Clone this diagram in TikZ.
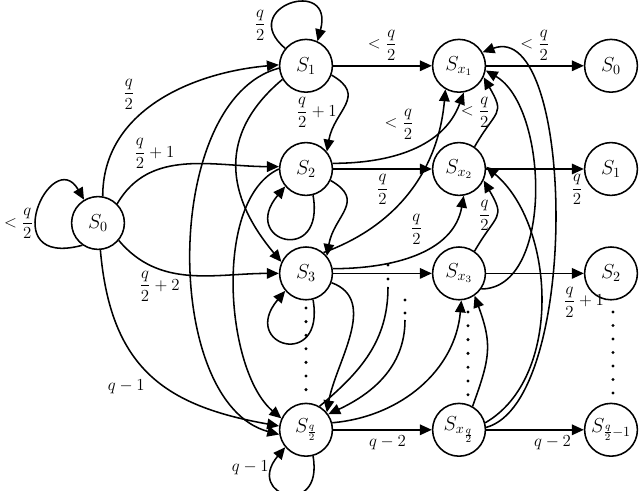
\documentclass[tikz,border=0pt]{standalone}
\usepackage{amsmath,amssymb}
\usepackage{tikz}
\usetikzlibrary{arrows.meta,calc}

\tikzset{
  state/.style={circle, draw, line width=1.1pt, minimum size=1.32cm, inner sep=0pt, font=\Large},
  trans/.style={line width=1.1pt, -{Triangle[length=8.5pt,width=7.5pt]}},
  link/.style={line width=1.1pt},
}

\begin{document}
\begin{tikzpicture}[font=\large]
    \useasboundingbox (0,0) rectangle (16,12.275);

    % States, left and middle columns
    \node[state] (s0) at (2.45,6.7) {$S_0$};
    \node[state] (s1) at (7.65,10.63) {$S_1$};
    \node[state] (s2) at (7.65,8.05) {$S_2$};
    \node[state] (s3) at (7.65,5.44) {$S_3$};
    \node[state] (sq) at (7.65,1.53) {$S_{\frac{q}{2}}$};
    \node[state] (x1) at (11.475,10.63) {$S_{x_1}$};
    \node[state] (x2) at (11.475,8.05) {$S_{x_2}$};
    \node[state] (x3) at (11.475,5.44) {$S_{x_3}$};
    \node[state] (xq) at (11.475,1.53) {$S_{x_{\frac{q}{2}}}$};

    % States, right column
    \node[state] (r0) at (15.275,10.63) {$S_0$};
    \node[state] (r1) at (15.275,8.05) {$S_1$};
    \node[state] (r2) at (15.275,5.44) {$S_2$};
    \node[state] (rq) at (15.275,1.53) {$S_{\frac{q}{2}-1}$};

    % Vertical dots
    \foreach \k in {0,...,6} {
        \fill (7.65,4.575-0.34*\k) circle (1.2pt);
        \fill (11.7,4.475-0.345*\k) circle (1.2pt);
        \fill (15.325,4.475-0.3375*\k) circle (1.2pt);
    }

    % Self loops
    \draw[trans] (s0.235) .. controls +(195:2.3) and +(120:1.6) .. (s0.121)
        node[pos=0.4, left, inner sep=1pt] {$<\dfrac{q}{2}$};
    \draw[trans] (s1.140) .. controls +(140:1.6) and +(75:1.7) .. (s1.65)
        node[pos=0.2, left] {$\dfrac{q}{2}$};
    \draw[trans] (s2.-75) .. controls +(-80:1.8) and +(230:1.8) .. (s2.220);
    \draw[trans] (s3.-75) .. controls +(-80:1.8) and +(230:1.8) .. (s3.220);
    \draw[trans] (sq.-75) .. controls +(-80:1.6) and +(230:1.6) .. (sq.220)
        node[pos=0.85, left] {$q-1$};

    % From S_0
    \draw[trans] (s0.80) to[out=90, in=185] node[pos=0.4, above left] {$\dfrac{q}{2}$} (s1.178);
    \draw[trans] (s0.45) to[out=60, in=180] node[pos=0.3, above, inner sep=1pt] {$\dfrac{q}{2}+1$} (s2.175);
    \draw[trans] (s0.-40) to[out=-50, in=180] node[pos=0.3, below, inner sep=1pt] {$\dfrac{q}{2}+2$} (s3.180);
    \draw[trans] (s0.-85) to[out=-85, in=170, looseness=1.2] node[pos=0.5, below left] {$q-1$} (sq.172);

    % From S_1
    \draw[trans] (s1) -- node[above] {$<\dfrac{q}{2}$} (x1);
    \draw[trans] (s1.-20) to[out=-30, in=80, looseness=1.4] node[pos=0.6, left] {$\dfrac{q}{2}+1$} (s2.40);
    \draw[trans] (s1.210) to[out=220, in=130, looseness=1.2] (s3.155);
    \draw[trans] (s1.185) to[out=195, in=165, looseness=0.85] (sq.190);

    % From S_2
    \draw[trans] (s2) -- node[below] {$\dfrac{q}{2}$} (x2);
    \draw[trans] (s2.12) to[out=0, in=-110] node[pos=0.55, above left] {$<\dfrac{q}{2}$} (x1.-80);
    \draw[trans] (s2.-25) to[out=-30, in=80, looseness=1.4] (s3.40);
    \draw[trans] (s2.180) to[out=205, in=140, looseness=0.75] (sq.155);

    % From S_3
    \draw[trans] (s3) -- (x3);
    \draw[trans] (s3.50) to[out=20, in=-95] (x1.-120);
    \draw[trans] (s3.10) to[out=0, in=-100] node[pos=0.5, above=3pt] {$\dfrac{q}{2}$} (x2.-80);
    \draw[trans] (s3.-20) to[out=-20, in=80] (sq.40);

    % Further states, only hinted
    \coordinate (d1) at (9.7,5.1);
    \coordinate (d2) at (10.125,4.275);
    \fill (9.7,5.65) circle (1.2pt) (9.7,5.3) circle (1.2pt);
    \fill (10.125,4.775) circle (1.2pt) (10.125,4.45) circle (1.2pt);
    \draw[link] (d1) to[out=-90, in=40] (sq.60);
    \draw[trans] (d2) to[out=-90, in=25] (sq.35);

    % From S_{q/2}
    \draw[trans] (sq) -- node[pos=0.55, below] {$q-2$} (xq);
    \draw[trans] (sq.15) to[out=5, in=-95] (x3.-85);

    % From the S_x states
    \draw[trans] (x1) -- node[above] {$<\dfrac{q}{2}$} (r0);
    \draw[trans] (x2) -- node[pos=0.93, below] {$\dfrac{q}{2}$} (r1);
    \draw[trans] (x3) -- node[pos=1, below=6pt] {$\dfrac{q}{2}+1$} (r2);
    \draw[trans] (xq) -- node[pos=0.68, below] {$q-2$} (rq);
    \draw[trans] (x2.55) to[out=60, in=-60, looseness=1.6] node[midway, left] {$<\dfrac{q}{2}$} (x1.-25);
    \draw[trans] (x3.55) to[out=60, in=-60, looseness=1.6] node[midway, left] {$\dfrac{q}{2}$} (x2.-25);
    \draw[trans] (xq.60) to[out=70, in=-70, looseness=1.2] (x3.-55);
    \draw[trans] (x3.-35) to[out=0, in=-30, looseness=0.85] (x1.-10);
    \draw[trans] (xq.15) to[out=30, in=-40, looseness=0.9] (x2.5);
    \draw[trans] (xq.5) to[out=15, in=20, looseness=0.67] (x1.30);
\end{tikzpicture}
\end{document}
